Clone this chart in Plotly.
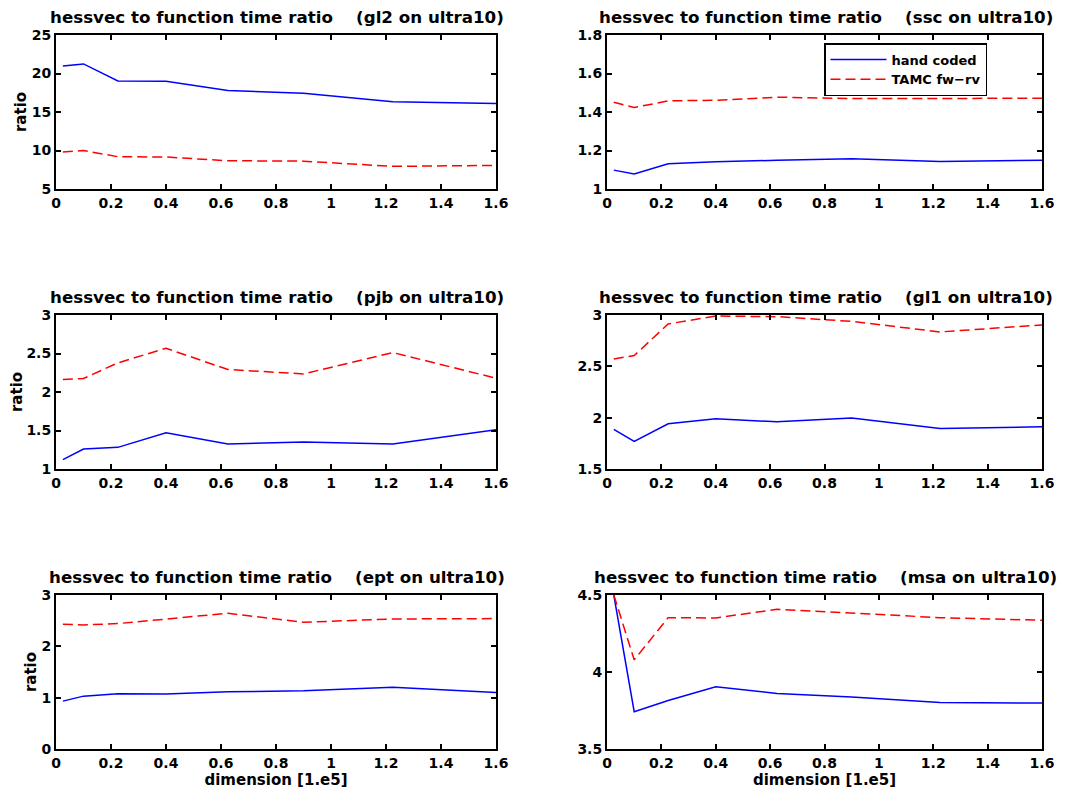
import plotly.graph_objects as go

# page is rendered with an 8px body margin: figure origin sits at (8, 8)
OFF = 8
W, H = 1067 - 2 * OFF, 797 - 2 * OFF

dims = [0.025, 0.1, 0.225, 0.4, 0.625, 0.9, 1.225, 1.6]

gl2_hand = [20.98, 21.24, 19.04, 19.0, 17.8, 17.44, 16.32, 16.1]
gl2_tamc = [9.8, 10.0, 9.19, 9.15, 8.67, 8.62, 7.94, 8.07]

ssc_hand = [1.098, 1.078, 1.131, 1.142, 1.149, 1.157, 1.143, 1.149]
ssc_tamc = [1.451, 1.423, 1.458, 1.461, 1.477, 1.47, 1.47, 1.472]

pjb_hand = [1.121, 1.259, 1.281, 1.471, 1.324, 1.35, 1.324, 1.51]
pjb_tamc = [2.162, 2.175, 2.378, 2.568, 2.292, 2.235, 2.512, 2.179]

gl1_hand = [1.886, 1.769, 1.94, 1.989, 1.96, 1.996, 1.895, 1.911]
gl1_tamc = [2.572, 2.605, 2.913, 2.99, 2.984, 2.938, 2.835, 2.903]

ept_hand = [0.933, 1.03, 1.076, 1.069, 1.114, 1.134, 1.205, 1.101]
ept_tamc = [2.43, 2.417, 2.443, 2.527, 2.644, 2.469, 2.533, 2.54]

msa_hand = [4.5, 3.742, 3.815, 3.904, 3.861, 3.837, 3.802, 3.798]
msa_tamc = [4.5, 4.079, 4.353, 4.351, 4.407, 4.383, 4.353, 4.336]

names = ["gl2", "ssc", "pjb", "gl1", "ept", "msa"]
hand = [gl2_hand, ssc_hand, pjb_hand, gl1_hand, ept_hand, msa_hand]
tamc = [gl2_tamc, ssc_tamc, pjb_tamc, gl1_tamc, ept_tamc, msa_tamc]
yranges = [[5, 25], [1, 1.8], [1, 3], [1.5, 3], [0, 3], [3.5, 4.5]]
ydticks = [5, 0.2, 0.5, 0.5, 1, 0.5]
x_ticks = [0, 0.2, 0.4, 0.6, 0.8, 1, 1.2, 1.4, 1.6]

series_labels = ["hand coded", "TAMC fw\u2212rv"]

# pixel boxes in page coordinates (left, right, top, bottom)
col_px = [(56, 496), (607, 1042)]
row_px = [(35, 189), (315, 469), (595, 749)]
title_shift = [1, 1]


def px(v):
    return (v - OFF) / W


def py(v):
    return 1 - (v - OFF) / H


FONT = "DejaVu Sans, Liberation Sans, Arial, sans-serif"

fig = go.Figure()
annotations = []
for i, nm in enumerate(names):
    r, c = divmod(i, 2)
    xa = "x" if i == 0 else f"x{i+1}"
    ya = "y" if i == 0 else f"y{i+1}"
    xkey = "xaxis" if i == 0 else f"xaxis{i+1}"
    ykey = "yaxis" if i == 0 else f"yaxis{i+1}"
    l, rr = col_px[c]
    t, b = row_px[r]
    show = (i == 1)
    fig.add_trace(go.Scatter(x=dims, y=hand[i], mode="lines", xaxis=xa, yaxis=ya,
                             name=series_labels[0], showlegend=show, legendrank=1,
                             line=dict(color="rgb(0,0,255)", width=1.5)))
    fig.add_trace(go.Scatter(x=dims, y=tamc[i], mode="lines", xaxis=xa, yaxis=ya,
                             name=series_labels[1], showlegend=show, legendrank=2,
                             line=dict(color="rgb(255,0,0)", width=1.5, dash="10px,5px")))
    axcommon = dict(showline=True, linecolor="black", linewidth=2, mirror="ticks",
                    ticks="inside", ticklen=5, tickwidth=1.5, tickcolor="black",
                    showgrid=False, zeroline=False, automargin=False,
                    tickfont=dict(family=FONT, size=14, color="black", weight="bold"))
    fig.layout[xkey] = dict(domain=[px(l), px(rr)], anchor=ya, range=[0, 1.6],
                            tickvals=x_ticks, **axcommon)
    fig.layout[ykey] = dict(domain=[py(b), py(t)], anchor=xa, range=yranges[i],
                            dtick=ydticks[i], tick0=0, **axcommon)
    if r == 2:
        fig.layout[xkey].title = dict(text="dimension [1.e5]", standoff=1,
                                      font=dict(family=FONT, size=15, color="black", weight="bold"))
    if c == 0:
        fig.layout[ykey].title = dict(text="ratio", standoff=1,
                                      font=dict(family=FONT, size=15, color="black", weight="bold"))
    annotations.append(dict(
        text="hessvec to function time ratio\u00a0\u00a0\u00a0\u00a0(" + nm + " on ultra10)",
        x=px((l + rr) / 2 + title_shift[c]), y=py(t - 18), xref="paper", yref="paper",
        xanchor="center", yanchor="middle", showarrow=False,
        font=dict(family=FONT, size=16.7, color="black", weight="bold")))

fig.update_layout(
    width=W, height=H,
    margin=dict(l=0, r=0, t=0, b=0, autoexpand=False),
    paper_bgcolor="white", plot_bgcolor="white",
    annotations=annotations,
    legend=dict(x=px(824), y=py(43), xanchor="left", yanchor="top",
                bgcolor="white", bordercolor="black", borderwidth=1.5,
                font=dict(family=FONT, size=13, color="black", weight="bold"),
                itemwidth=56, tracegroupgap=0),
)

fig.write_html("out.html")
